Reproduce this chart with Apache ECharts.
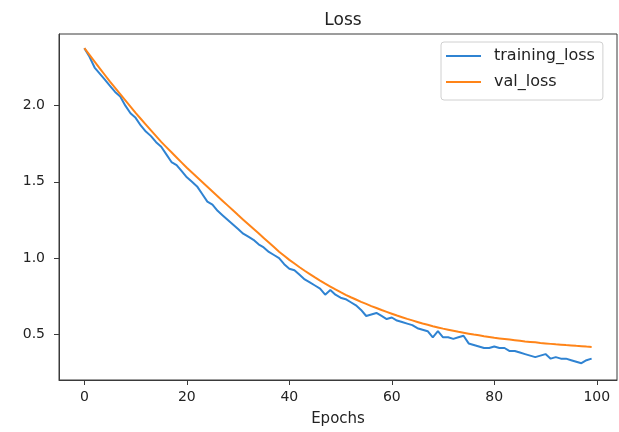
<!DOCTYPE html>
<html>
<head>
<meta charset="utf-8">
<script src="https://cdn.jsdelivr.net/npm/echarts@6/dist/echarts.min.js"></script>
<style>
  html, body { margin: 0; padding: 0; background: #ffffff; }
  #chart { width: 619px; height: 432px; }
</style>
</head>
<body>
<div id="chart"></div>
<script>
const epochs = Array.from({length: 100}, (_, i) => i);

const trainingLoss = [
  2.377, 2.32, 2.25, 2.21, 2.17, 2.13, 2.09, 2.06, 2.00, 1.95,
  1.92, 1.87, 1.83, 1.80, 1.76, 1.73, 1.68, 1.63, 1.61, 1.57,
  1.53, 1.50, 1.47, 1.42, 1.37, 1.35, 1.31, 1.28, 1.25, 1.22,
  1.19, 1.16, 1.14, 1.12, 1.09, 1.07, 1.04, 1.02, 1.00, 0.96,
  0.93, 0.92, 0.89, 0.86, 0.84, 0.82, 0.80, 0.76, 0.79, 0.76,
  0.74, 0.73, 0.71, 0.69, 0.66, 0.62, 0.63, 0.64, 0.62, 0.60,
  0.61, 0.59, 0.58, 0.57, 0.56, 0.54, 0.53, 0.52, 0.48, 0.52,
  0.48, 0.48, 0.47, 0.48, 0.49, 0.44, 0.43, 0.42, 0.41, 0.41,
  0.42, 0.41, 0.41, 0.39, 0.39, 0.38, 0.37, 0.36, 0.35, 0.36,
  0.37, 0.34, 0.35, 0.34, 0.34, 0.33, 0.32, 0.31, 0.33, 0.34
];

const valLoss = [
  2.377, 2.333, 2.289, 2.245, 2.201, 2.157, 2.116, 2.075, 2.034, 1.993,
  1.952, 1.914, 1.876, 1.838, 1.800, 1.762, 1.728, 1.694, 1.660, 1.626,
  1.592, 1.561, 1.530, 1.499, 1.468, 1.437, 1.406, 1.375, 1.344, 1.313,
  1.282, 1.252, 1.222, 1.192, 1.162, 1.132, 1.102, 1.072, 1.042, 1.015,
  0.988, 0.964, 0.940, 0.917, 0.895, 0.873, 0.852, 0.832, 0.813, 0.794,
  0.776, 0.759, 0.743, 0.728, 0.713, 0.699, 0.685, 0.672, 0.659, 0.647,
  0.635, 0.623, 0.612, 0.601, 0.591, 0.581, 0.571, 0.562, 0.553, 0.545,
  0.537, 0.530, 0.523, 0.516, 0.510, 0.504, 0.498, 0.493, 0.487, 0.482,
  0.477, 0.473, 0.469, 0.465, 0.461, 0.457, 0.453, 0.450, 0.447, 0.443,
  0.440, 0.437, 0.434, 0.432, 0.429, 0.427, 0.424, 0.422, 0.419, 0.417
];

const xTicks = [0, 20, 40, 60, 80, 100];
const yTicks = [0.5, 1.0, 1.5, 2.0];

const seriesNames = ['training_loss', 'val_loss'];
const titleText = 'Loss';
const xAxisName = 'Epochs';

const FONT = 'DejaVu Sans';
const TEXT = '#222222';
const AXIS = '#3a3a3a';
const BLUE = '#2f83d2';
const ORANGE = '#ff8418';

const chart = echarts.init(document.getElementById('chart'), null, {renderer: 'canvas'});

chart.setOption({
  animation: false,
  backgroundColor: '#ffffff',
  title: {
    text: titleText,
    left: 338,
    top: 7,
    textAlign: 'center',
    textStyle: {fontFamily: FONT, fontSize: 17, fontWeight: 'normal', color: TEXT}
  },
  legend: {
    orient: 'vertical',
    left: 441,
    top: 42,
    data: seriesNames.map(n => ({name: n, icon: 'rect'})),
    itemWidth: 35,
    itemHeight: 2,
    itemGap: 8,
    padding: [5, 8, 9, 5],
    borderColor: '#d0d0d0',
    borderWidth: 1,
    borderRadius: 3,
    backgroundColor: '#ffffff',
    textStyle: {fontFamily: FONT, fontSize: 16, lineHeight: 18, color: TEXT, padding: [0, 0, 0, 8]}
  },
  grid: {
    left: 59, right: 2, top: 34, bottom: 52,
    show: true,
    borderColor: AXIS,
    borderWidth: 1,
    backgroundColor: '#ffffff'
  },
  xAxis: {
    type: 'value',
    min: -4.95,
    max: 103.95,
    name: xAxisName,
    nameLocation: 'middle',
    nameGap: 32,
    nameTextStyle: {fontFamily: FONT, fontSize: 15, color: TEXT},
    axisLine: {show: true, onZero: false, lineStyle: {color: AXIS, width: 1}},
    axisTick: {show: true, inside: false, length: 5, customValues: xTicks, lineStyle: {color: AXIS}},
    axisLabel: {show: true, margin: 10, customValues: xTicks, fontFamily: FONT, fontSize: 14, color: TEXT,
      formatter: v => String(v)},
    splitLine: {show: false}
  },
  yAxis: {
    type: 'value',
    min: 0.2,
    max: 2.47,
    axisLine: {show: true, onZero: false, lineStyle: {color: AXIS, width: 1}},
    axisTick: {show: true, inside: false, length: 5, customValues: yTicks, lineStyle: {color: AXIS}},
    axisLabel: {show: true, margin: 14, customValues: yTicks, fontFamily: FONT, fontSize: 14, color: TEXT,
      formatter: v => v.toFixed(1)},
    splitLine: {show: false}
  },
  series: [
    {
      name: seriesNames[0],
      type: 'line',
      data: epochs.map((e, i) => [e, trainingLoss[i]]),
      symbol: 'none',
      smooth: false,
      lineStyle: {color: BLUE, width: 2},
      itemStyle: {color: BLUE},
      z: 2
    },
    {
      name: seriesNames[1],
      type: 'line',
      data: epochs.map((e, i) => [e, valLoss[i]]),
      symbol: 'none',
      smooth: false,
      lineStyle: {color: ORANGE, width: 2},
      itemStyle: {color: ORANGE},
      z: 3
    }
  ]
});
</script>
</body>
</html>
